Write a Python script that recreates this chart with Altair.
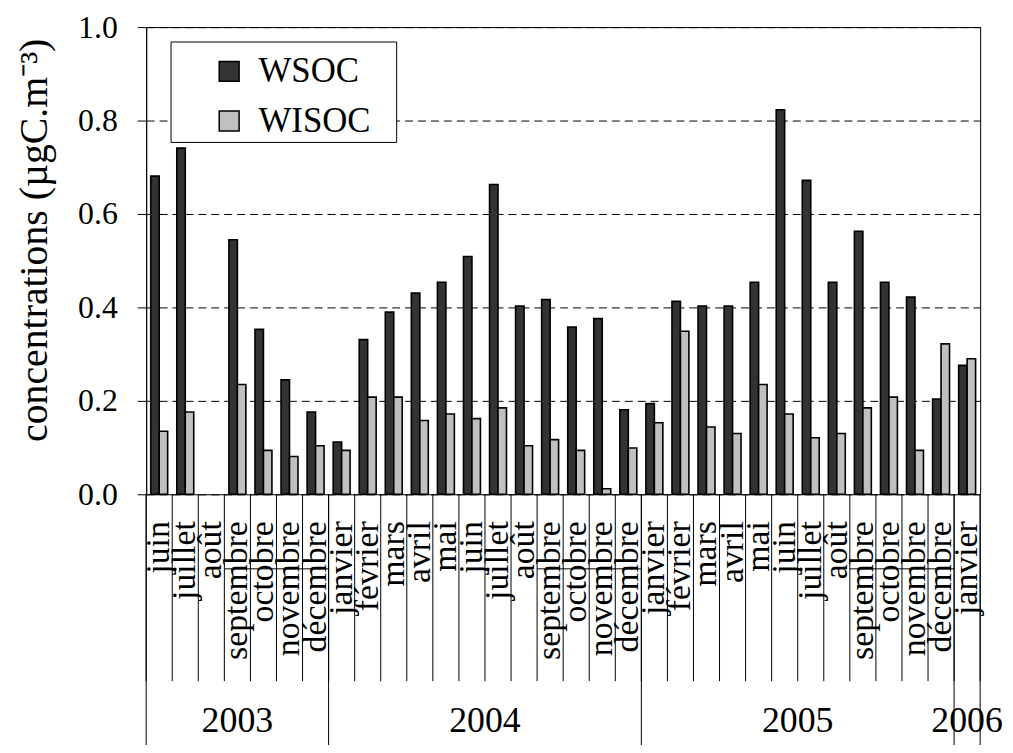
import altair as alt
import pandas as pd

FONT = "Liberation Serif"

month_labels = ["juin", "juillet", "août", "septembre", "octobre", "novembre", "décembre",
                "janvier", "février", "mars", "avril", "mai", "juin", "juillet", "août",
                "septembre", "octobre", "novembre", "décembre",
                "janvier", "février", "mars", "avril", "mai", "juin", "juillet", "août",
                "septembre", "octobre", "novembre", "décembre",
                "janvier"]
month_years = ["2003"] * 7 + ["2004"] * 12 + ["2005"] * 12 + ["2006"]

wsoc = [0.681, 0.741, None, 0.545, 0.353, 0.245, 0.176,
        0.112, 0.331, 0.390, 0.431, 0.454, 0.509, 0.663, 0.403, 0.417, 0.358, 0.376, 0.181,
        0.194, 0.413, 0.403, 0.403, 0.454, 0.823, 0.672, 0.454, 0.563, 0.454, 0.422, 0.204,
        0.276]
wisoc = [0.135, 0.176, None, 0.235, 0.094, 0.081, 0.104,
         0.094, 0.208, 0.208, 0.158, 0.172, 0.162, 0.185, 0.104, 0.117, 0.094, 0.012, 0.099,
         0.153, 0.349, 0.144, 0.130, 0.235, 0.172, 0.121, 0.130, 0.185, 0.208, 0.094, 0.322,
         0.290]

series_names = ["WSOC", "WISOC"]
series_colors = ["#333333", "#c0c0c0"]
y_ticks = [0.0, 0.2, 0.4, 0.6, 0.8, 1.0]
y_title = "concentrations (µgC.m⁻³)"

# ---- tables built from the arrays ----
n = len(month_labels)
keys = [f"{y}-{i:02d}" for i, y in enumerate(month_years)]
months = pd.DataFrame({"key": keys, "mois": month_labels, "annee": month_years,
                       "idx": list(range(n)), "WSOC": wsoc, "WISOC": wisoc})
long = months.melt(id_vars=["key", "mois", "annee", "idx"], value_vars=series_names,
                   var_name="serie", value_name="conc").dropna(subset=["conc"])

years = months.groupby("annee")["idx"].agg(["min", "max"]).reset_index()
years["start"] = years["min"]
years["end"] = years["max"] + 1
years["mid"] = (years["start"] + years["end"]) / 2

month_bounds = pd.DataFrame({"b": list(range(n + 1))})
year_bounds = pd.DataFrame({"b": sorted(set(years["start"].tolist()) | {n})})

winter = []
for y in years["annee"]:
    sub = months[months["annee"] == y]
    s = sub[sub["mois"] == "septembre"]["idx"]
    e = sub[sub["mois"] == "décembre"]["idx"]
    if len(s) and len(e):
        winter.append({"start": int(s.iloc[0]), "end": int(e.iloc[0]) + 1})
winter = pd.DataFrame(winter)

W, H = 839, 470
xlin = alt.Scale(domain=[0, n], nice=False, zero=False)

bars = alt.Chart(long).mark_bar(stroke="black", strokeWidth=1.6).encode(
    x=alt.X("key:N", sort=keys,
            scale=alt.Scale(domain=keys, paddingInner=0.35, paddingOuter=0.175), axis=None),
    xOffset=alt.XOffset("serie:N", sort=series_names,
                        scale=alt.Scale(domain=series_names, paddingInner=0, paddingOuter=0)),
    y=alt.Y("conc:Q", scale=alt.Scale(domain=[0, 1], nice=False),
            axis=alt.Axis(values=y_ticks, format=".1f", grid=True, gridDash=[8, 5],
                          gridColor="black", gridWidth=1, gridOpacity=1,
                          domainColor="black", tickColor="black", tickSize=9,
                          labelPadding=20, labelFont=FONT, labelFontSize=32, labelColor="black",
                          title=y_title, titleFont=FONT, titleFontSize=40,
                          titleFontWeight="normal", titleColor="black",
                          titleX=-92, titleY=214)),
    color=alt.Color("serie:N", sort=series_names,
                    scale=alt.Scale(domain=series_names, range=series_colors),
                    legend=alt.Legend(title=None, orient="none", legendX=66, legendY=27,
                                      padding=0, symbolType="square", symbolSize=400,
                                      symbolStrokeColor="black", symbolStrokeWidth=1.5,
                                      labelFont=FONT, labelFontSize=35, labelColor="black",
                                      labelOffset=12, rowPadding=14)),
)

sep = alt.Chart(month_bounds).mark_rule(color="black", strokeWidth=1).encode(
    x=alt.X("b:Q", scale=xlin, axis=None), y=alt.value(H), y2=alt.value(658))

ysep = alt.Chart(year_bounds).mark_rule(color="black", strokeWidth=1).encode(
    x=alt.X("b:Q", scale=xlin, axis=None), y=alt.value(H), y2=alt.value(740))

wline = alt.Chart(winter).mark_rule(color="black", strokeWidth=1).encode(
    x=alt.X("start:Q", scale=xlin, axis=None), x2="end:Q", y=alt.value(545))

mlabels = alt.Chart(months).transform_calculate(c="datum.idx + 0.5").mark_text(
    angle=270, align="right", baseline="middle", font=FONT, fontSize=34, color="black"
).encode(x=alt.X("c:Q", scale=xlin, axis=None), y=alt.value(497), text="mois:N")

ylabels = alt.Chart(years).mark_text(
    align="center", baseline="alphabetic", font=FONT, fontSize=36, color="black"
).encode(x=alt.X("mid:Q", scale=xlin, axis=None), y=alt.value(709), text="annee:N")

box = alt.Chart(alt.Data(values=[{}])).mark_rect(fill="white", stroke="black", strokeWidth=1).encode(
    x=alt.value(25), x2=alt.value(252), y=alt.value(15), y2=alt.value(116))

chart = alt.layer(bars, sep, ysep, wline, mlabels, ylabels, box).resolve_scale(
    x="independent"
).properties(
    width=W, height=H,
    padding={"left": 139, "top": 17, "right": 25, "bottom": 250},
    autosize=alt.AutoSizeParams(type="none"),
    background="white",
).configure_view(stroke="black", strokeWidth=1)

chart.save("out.html", embed_options={"renderer": "svg", "actions": False})
